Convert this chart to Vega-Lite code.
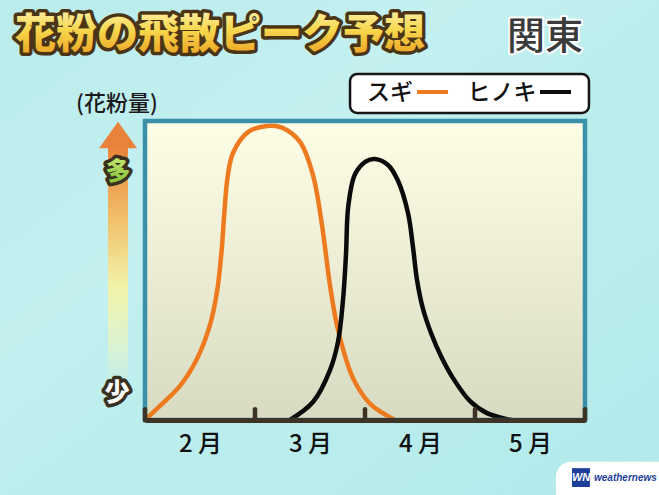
{
  "$schema": "https://vega.github.io/schema/vega-lite/v6.json",
  "autosize": "none",
  "width": 440,
  "height": 299,
  "padding": {"left": 145, "top": 121, "right": 74, "bottom": 75},
  "background": "#b7ebec",
  "config": {"view": {"stroke": null, "fill": null}, "font": "Noto Sans CJK JP"},
  "resolve": {"axis": {"x": "independent", "y": "independent"}},
  "layer": [
    {
      "data": {"values": [{}]},
      "mark": {"type": "rect", "fill": {"gradient": "linear", "x1": 0, "y1": 0, "x2": 1, "y2": 1, "stops": [{"offset": 0, "color": "#b9ecec"}, {"offset": 0.35, "color": "#c4f0f0"}, {"offset": 0.5, "color": "#bdeeee"}, {"offset": 1, "color": "#b3eaec"}]}},
      "encoding": {"x": {"datum": -1.32, "axis": null}, "x2": {"datum": 4.68}, "y": {"datum": -0.26, "axis": null}, "y2": {"datum": 1.41}}
    },
    {
      "data": {"values": [{}]},
      "mark": {"type": "rect", "fill": {"gradient": "linear", "x1": 0, "y1": 0, "x2": 0, "y2": 1, "stops": [{"offset": 0, "color": "#fefee6"}, {"offset": 1, "color": "#d8dbc1"}]}},
      "encoding": {"x": {"datum": 0, "axis": null}, "x2": {"datum": 4}, "y": {"datum": 0, "axis": null}, "y2": {"datum": 1}}
    },
    {
      "data": {"values": [
        {"species": "スギ", "m": 0, "v": 0},
        {"species": "スギ", "m": 0.136, "v": 0.047},
        {"species": "スギ", "m": 0.318, "v": 0.114},
        {"species": "スギ", "m": 0.473, "v": 0.205},
        {"species": "スギ", "m": 0.591, "v": 0.318},
        {"species": "スギ", "m": 0.655, "v": 0.43},
        {"species": "スギ", "m": 0.695, "v": 0.56},
        {"species": "スギ", "m": 0.72, "v": 0.686},
        {"species": "スギ", "m": 0.75, "v": 0.81},
        {"species": "スギ", "m": 0.8, "v": 0.893},
        {"species": "スギ", "m": 0.936, "v": 0.963},
        {"species": "スギ", "m": 1.109, "v": 0.983},
        {"species": "スギ", "m": 1.245, "v": 0.978},
        {"species": "スギ", "m": 1.409, "v": 0.93},
        {"species": "スギ", "m": 1.527, "v": 0.819},
        {"species": "スギ", "m": 1.609, "v": 0.652},
        {"species": "スギ", "m": 1.682, "v": 0.45},
        {"species": "スギ", "m": 1.755, "v": 0.301},
        {"species": "スギ", "m": 1.891, "v": 0.14},
        {"species": "スギ", "m": 2.045, "v": 0.055},
        {"species": "スギ", "m": 2.273, "v": 0},
        {"species": "ヒノキ", "m": 1.318, "v": 0},
        {"species": "ヒノキ", "m": 1.527, "v": 0.06},
        {"species": "ヒノキ", "m": 1.682, "v": 0.167},
        {"species": "ヒノキ", "m": 1.755, "v": 0.262},
        {"species": "ヒノキ", "m": 1.8, "v": 0.401},
        {"species": "ヒノキ", "m": 1.827, "v": 0.552},
        {"species": "ヒノキ", "m": 1.848, "v": 0.715},
        {"species": "ヒノキ", "m": 1.909, "v": 0.822},
        {"species": "ヒノキ", "m": 2.009, "v": 0.865},
        {"species": "ヒノキ", "m": 2.091, "v": 0.873},
        {"species": "ヒノキ", "m": 2.209, "v": 0.853},
        {"species": "ヒノキ", "m": 2.3, "v": 0.8},
        {"species": "ヒノキ", "m": 2.391, "v": 0.692},
        {"species": "ヒノキ", "m": 2.436, "v": 0.579},
        {"species": "ヒノキ", "m": 2.473, "v": 0.468},
        {"species": "ヒノキ", "m": 2.527, "v": 0.372},
        {"species": "ヒノキ", "m": 2.6, "v": 0.291},
        {"species": "ヒノキ", "m": 2.69, "v": 0.214},
        {"species": "ヒノキ", "m": 2.8, "v": 0.14},
        {"species": "ヒノキ", "m": 2.955, "v": 0.063},
        {"species": "ヒノキ", "m": 3.109, "v": 0.023},
        {"species": "ヒノキ", "m": 3.291, "v": 0.003},
        {"species": "ヒノキ", "m": 3.336, "v": 0}
      ]},
      "mark": {"type": "line", "interpolate": "catmull-rom", "strokeWidth": 4.5, "strokeCap": "round"},
      "encoding": {
        "x": {"field": "m", "type": "quantitative", "scale": {"domain": [0, 4], "nice": false, "zero": false},
          "axis": {"values": [0.5, 1.5, 2.5, 3.5], "labelExpr": "datum.value < 1 ? '2 月' : datum.value < 2 ? '3 月' : datum.value < 3 ? '4 月' : '5 月'", "ticks": false, "grid": false, "title": null,
            "domainColor": "#3d3327", "domainWidth": 5, "labelFont": "Noto Sans CJK JP", "labelFontSize": 24, "labelFontWeight": 500, "labelColor": "#111111", "labelPadding": 12, "zindex": 2}},
        "y": {"field": "v", "type": "quantitative", "scale": {"domain": [0, 1], "nice": false}, "axis": null},
        "color": {"field": "species", "type": "nominal", "scale": {"domain": ["スギ", "ヒノキ"], "range": ["#ee7a20", "#0b0b0b"]}, "legend": null}
      }
    },
    {
      "data": {"values": [{}]},
      "mark": {"type": "rect", "fill": "transparent", "stroke": "#3a90a8", "strokeWidth": 4.5},
      "encoding": {"x": {"datum": 0, "axis": null}, "x2": {"datum": 4}, "y": {"datum": 0, "axis": null}, "y2": {"datum": 1}}
    },
    {
      "data": {"values": [{"b": 0}, {"b": 1}, {"b": 2}, {"b": 3}, {"b": 4}]},
      "mark": {"type": "rule", "color": "#3d3327", "strokeWidth": 4.5, "strokeCap": "round"},
      "encoding": {"x": {"field": "b", "type": "quantitative", "axis": null}, "y": {"datum": 0, "axis": null}, "y2": {"datum": 0.036}}
    },
    {
      "data": {"values": [{}]},
      "mark": {"type": "text", "text": "花粉の飛散ピーク予想", "fontSize": 41, "fontWeight": 900, "font": "Noto Sans CJK JP", "align": "center", "baseline": "middle", "fill": "#4a3516", "stroke": "#4a3516", "strokeWidth": 7, "strokeJoin": "round"},
      "encoding": {"x": {"datum": 0.682, "axis": null}, "y": {"datum": 1.285, "axis": null}}
    },
    {
      "data": {"values": [{}]},
      "mark": {"type": "text", "text": "花粉の飛散ピーク予想", "fontSize": 41, "fontWeight": 900, "font": "Noto Sans CJK JP", "align": "center", "baseline": "middle",
        "fill": {"gradient": "linear", "x1": 0, "y1": 0, "x2": 0, "y2": 1, "stops": [{"offset": 0, "color": "#fffbd2"}, {"offset": 0.5, "color": "#f8d84e"}, {"offset": 1, "color": "#eb9a1c"}]}},
      "encoding": {"x": {"datum": 0.682, "axis": null}, "y": {"datum": 1.285, "axis": null}}
    },
    {
      "data": {"values": [{}]},
      "mark": {"type": "text", "text": "関東", "fontSize": 38, "fontWeight": 500, "font": "Noto Sans CJK JP", "align": "center", "baseline": "middle", "fill": "#ffffff", "stroke": "#ffffff", "strokeWidth": 4, "strokeJoin": "round"},
      "encoding": {"x": {"datum": 3.636, "axis": null}, "y": {"datum": 1.278, "axis": null}}
    },
    {
      "data": {"values": [{}]},
      "mark": {"type": "text", "text": "関東", "fontSize": 38, "fontWeight": 500, "font": "Noto Sans CJK JP", "align": "center", "baseline": "middle", "fill": "#3b3b3b"},
      "encoding": {"x": {"datum": 3.636, "axis": null}, "y": {"datum": 1.278, "axis": null}}
    },
    {
      "data": {"values": [{}]},
      "mark": {"type": "rect", "cornerRadius": 7, "fill": "#ffffff", "stroke": "#151515", "strokeWidth": 2.5},
      "encoding": {"x": {"datum": 1.864, "axis": null}, "x2": {"datum": 4.036}, "y": {"datum": 1.027, "axis": null}, "y2": {"datum": 1.157}}
    },
    {
      "data": {"values": [{}]},
      "mark": {"type": "text", "text": "スギ", "fontSize": 23, "fontWeight": 500, "font": "Noto Sans CJK JP", "align": "center", "baseline": "middle", "fill": "#111111"},
      "encoding": {"x": {"datum": 2.227, "axis": null}, "y": {"datum": 1.094, "axis": null}}
    },
    {
      "data": {"values": [{}]},
      "mark": {"type": "rule", "color": "#ee7a20", "strokeWidth": 4},
      "encoding": {"x": {"datum": 2.473, "axis": null}, "x2": {"datum": 2.755}, "y": {"datum": 1.097, "axis": null}}
    },
    {
      "data": {"values": [{}]},
      "mark": {"type": "text", "text": "ヒノキ", "fontSize": 23, "fontWeight": 500, "font": "Noto Sans CJK JP", "align": "center", "baseline": "middle", "fill": "#111111"},
      "encoding": {"x": {"datum": 3.245, "axis": null}, "y": {"datum": 1.094, "axis": null}}
    },
    {
      "data": {"values": [{}]},
      "mark": {"type": "rule", "color": "#0b0b0b", "strokeWidth": 4},
      "encoding": {"x": {"datum": 3.591, "axis": null}, "x2": {"datum": 3.873}, "y": {"datum": 1.097, "axis": null}}
    },
    {
      "data": {"values": [{}]},
      "mark": {"type": "text", "text": "(花粉量)", "fontSize": 22, "fontWeight": 500, "font": "Noto Sans CJK JP", "align": "center", "baseline": "middle", "fill": "#1a1a1a"},
      "encoding": {"x": {"datum": -0.255, "axis": null}, "y": {"datum": 1.057, "axis": null}}
    },
    {
      "data": {"values": [{}]},
      "mark": {"type": "rect", "fill": {"gradient": "linear", "x1": 0, "y1": 0, "x2": 0, "y2": 1, "stops": [{"offset": 0, "color": "#e98238"}, {"offset": 0.3, "color": "#f1bd68"}, {"offset": 0.6, "color": "#f2f3a8"}, {"offset": 0.85, "color": "#dcf3d2"}, {"offset": 1, "color": "#c4eee8"}]}},
      "encoding": {"x": {"datum": -0.336, "axis": null}, "x2": {"datum": -0.155}, "y": {"datum": 0.134, "axis": null}, "y2": {"datum": 0.916}}
    },
    {
      "data": {"values": [{}]},
      "mark": {"type": "point", "shape": "M-1,0.7L0,-0.7L1,0.7Z", "size": 1444, "filled": true, "fill": "#e9823a", "opacity": 1, "strokeWidth": 0},
      "encoding": {"x": {"datum": -0.245, "axis": null}, "y": {"datum": 0.953, "axis": null}}
    },
    {
      "data": {"values": [{}]},
      "mark": {"type": "text", "text": "多", "fontSize": 25, "fontWeight": 900, "font": "Noto Sans CJK JP", "align": "center", "baseline": "middle", "fill": "#3a3020", "stroke": "#3a3020", "strokeWidth": 7, "strokeJoin": "round"},
      "encoding": {"x": {"datum": -0.245, "axis": null}, "y": {"datum": 0.829, "axis": null}}
    },
    {
      "data": {"values": [{}]},
      "mark": {"type": "text", "text": "多", "fontSize": 25, "fontWeight": 900, "font": "Noto Sans CJK JP", "align": "center", "baseline": "middle",
        "fill": {"gradient": "linear", "x1": 0, "y1": 0, "x2": 0, "y2": 1, "stops": [{"offset": 0, "color": "#d6ee80"}, {"offset": 1, "color": "#78bf2e"}]}},
      "encoding": {"x": {"datum": -0.245, "axis": null}, "y": {"datum": 0.829, "axis": null}}
    },
    {
      "data": {"values": [{}]},
      "mark": {"type": "text", "text": "少", "fontSize": 25, "fontWeight": 900, "font": "Noto Sans CJK JP", "align": "center", "baseline": "middle", "fill": "#3a3020", "stroke": "#3a3020", "strokeWidth": 7, "strokeJoin": "round"},
      "encoding": {"x": {"datum": -0.255, "axis": null}, "y": {"datum": 0.09, "axis": null}}
    },
    {
      "data": {"values": [{}]},
      "mark": {"type": "text", "text": "少", "fontSize": 25, "fontWeight": 900, "font": "Noto Sans CJK JP", "align": "center", "baseline": "middle", "fill": "#ffffff"},
      "encoding": {"x": {"datum": -0.255, "axis": null}, "y": {"datum": 0.09, "axis": null}}
    },
    {
      "data": {"values": [{}]},
      "mark": {"type": "rect", "cornerRadius": 15, "fill": "#ffffff"},
      "encoding": {"x": {"datum": 3.736, "axis": null}, "x2": {"datum": 4.9}, "y": {"datum": -0.3, "axis": null}, "y2": {"datum": -0.14}}
    },
    {
      "data": {"values": [{}]},
      "mark": {"type": "rect", "fill": "#1d3f9a"},
      "encoding": {"x": {"datum": 3.882, "axis": null}, "x2": {"datum": 4.045}, "y": {"datum": -0.224, "axis": null}, "y2": {"datum": -0.161}}
    },
    {
      "data": {"values": [{}]},
      "mark": {"type": "text", "text": "WN", "fontSize": 11, "fontWeight": "bold", "fontStyle": "italic", "font": "Liberation Sans", "align": "center", "baseline": "middle", "fill": "#ffffff"},
      "encoding": {"x": {"datum": 3.964, "axis": null}, "y": {"datum": -0.193, "axis": null}}
    },
    {
      "data": {"values": [{}]},
      "mark": {"type": "text", "text": "weathernews", "fontSize": 10, "fontWeight": "bold", "fontStyle": "italic", "font": "Liberation Sans", "align": "left", "baseline": "middle", "fill": "#1d3f9a"},
      "encoding": {"x": {"datum": 4.082, "axis": null}, "y": {"datum": -0.193, "axis": null}}
    }
  ]
}
